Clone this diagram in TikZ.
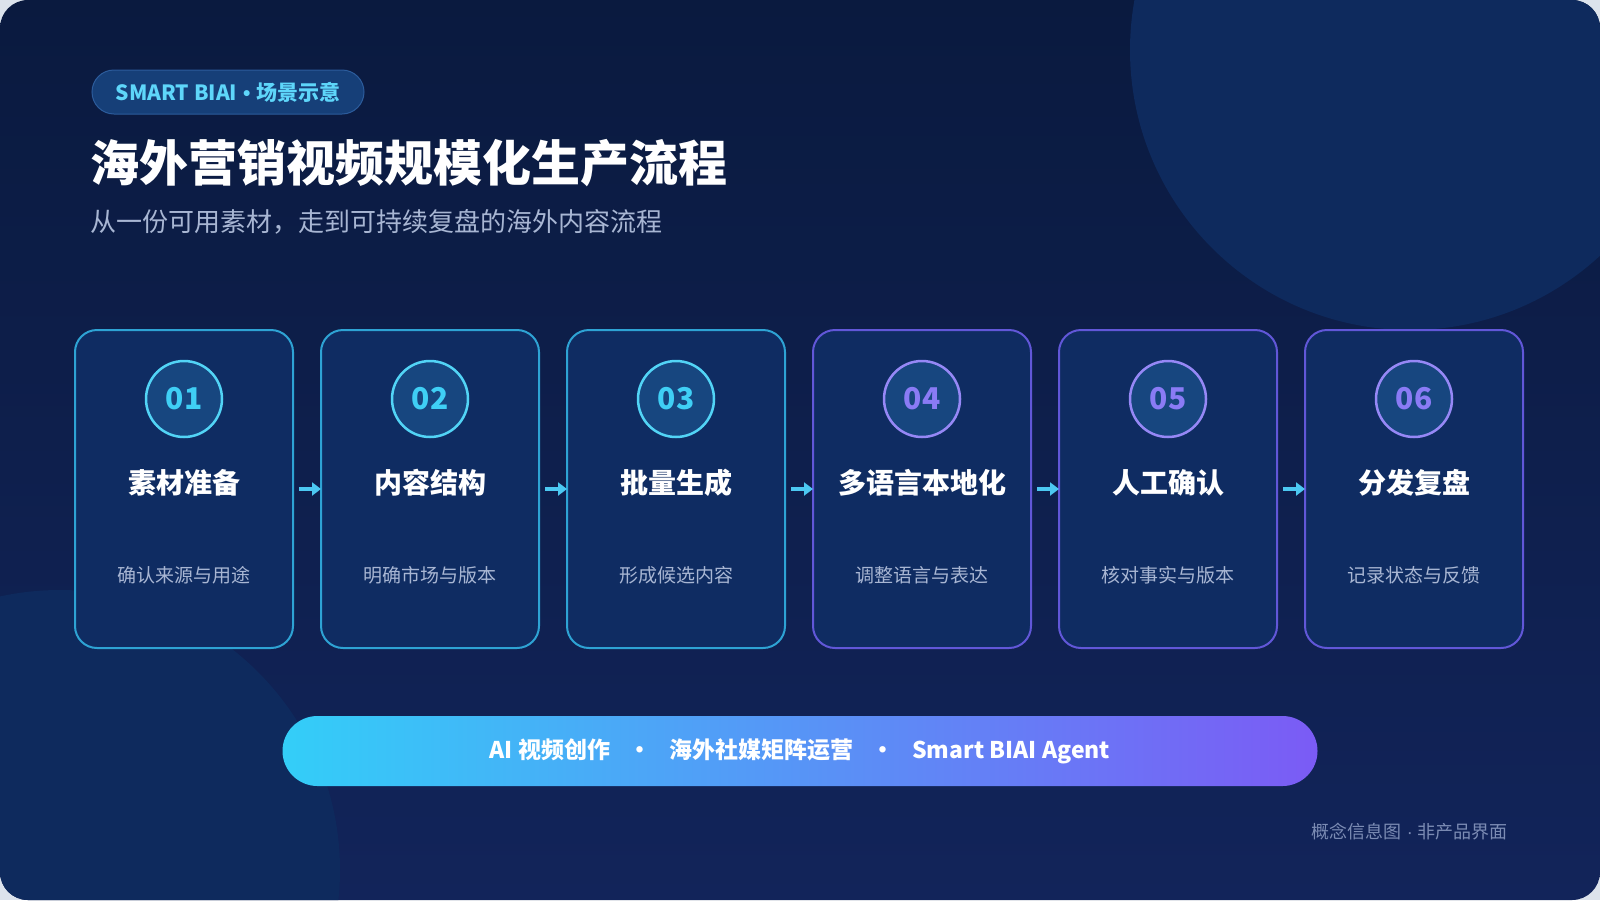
\documentclass[tikz,border=0pt]{standalone}
\usepackage{fontspec}
\setmainfont{Noto Sans CJK SC}
\newfontfamily\symfont{Liberation Sans}
\usepackage{xcolor}
\usepackage{tikz}
\usetikzlibrary{arrows.meta, positioning}
\definecolor{bgouter}{HTML}{DCE3EC}
\definecolor{bgtop}{HTML}{0A1A3F}
\definecolor{bgbottom}{HTML}{12245A}
\definecolor{blob}{HTML}{0E2A5D}
\definecolor{cardfill}{HTML}{0F2C62}
\definecolor{dotfill}{HTML}{17467F}
\definecolor{stepcyan}{HTML}{2EA3D4}
\definecolor{steppurple}{HTML}{6157D8}
\definecolor{numcyan}{HTML}{3FCFF5}
\definecolor{numpurple}{HTML}{8A7BF5}
\definecolor{dimtext}{HTML}{A8B6D3}
\definecolor{pillfill}{HTML}{163F78}
\definecolor{pillborder}{HTML}{2C5C9C}
\definecolor{pilltext}{HTML}{5ED6FA}
\definecolor{barleft}{HTML}{33CEF8}
\definecolor{barright}{HTML}{7B5BF5}
\definecolor{notetext}{HTML}{7C8CB4}
\definecolor{accent}{HTML}{4CC8F2}
\newcommand{\pxfont}[1]{\fontsize{#1}{#1}\selectfont}

\begin{document}
\begin{tikzpicture}[x=1pt, y=-1pt,
    card/.style={rectangle, rounded corners=22pt, fill=cardfill, line width=2pt,
                 minimum width=218pt, minimum height=318pt},
    cyancard/.style={card, draw=stepcyan},
    purplecard/.style={card, draw=steppurple},
    num/.style={circle, fill=dotfill, line width=2.5pt, minimum size=76pt, inner sep=0pt,
                font=\pxfont{30}\bfseries},
    cyannum/.style={num, draw=numcyan!90, text=numcyan},
    purplenum/.style={num, draw=numpurple!90, text=numpurple},
    stitle/.style={inner sep=0pt, text=white, font=\pxfont{28}\bfseries},
    sdesc/.style={inner sep=0pt, text=dimtext, font=\pxfont{19}},
    arrow/.style={-{Triangle[length=9pt, width=13pt]}, line width=4pt, color=accent,
                  shorten <=5pt, shorten >=-1pt}
  ]
    % background
    \useasboundingbox (0,0) rectangle (1600,900);
    \fill[bgouter] (0,0) rectangle (1600,900);
    \begin{scope}
      \path[clip, rounded corners=28pt] (0,0) rectangle (1600,900);
      \shade[top color=bgtop, bottom color=bgbottom] (0,0) rectangle (1600,900);
      \fill[blob] (1410,50) circle[radius=280];
      \fill[blob] (60,870) circle[radius=280];
    \end{scope}

    % header
    \node[rectangle, rounded corners=22pt, fill=pillfill, draw=pillborder, line width=1pt,
          minimum width=272pt, minimum height=44pt, text=pilltext, font=\pxfont{21}\bfseries]
      (badge) at (228,92) {SMART BIAI{\symfont{} • }场景示意};
    \node[anchor=west, inner sep=0pt, text=white, font=\pxfont{49}\bfseries]
      (title) at (90,163) {海外营销视频规模化生产流程};
    \node[anchor=west, inner sep=0pt, text=dimtext, font=\pxfont{26}]
      (subtitle) at (90,222) {从一份可用素材，走到可持续复盘的海外内容流程};

    % steps
    \node[cyancard] (material) at (184,489) {};
    \node[cyannum] (num1) at (184,399) {01};
    \node[stitle] (title1) at (184,483) {素材准备};
    \node[sdesc] (desc1) at (184,575) {确认来源与用途};

    \node[cyancard] (structure) at (430,489) {};
    \node[cyannum] (num2) at (430,399) {02};
    \node[stitle] (title2) at (430,483) {内容结构};
    \node[sdesc] (desc2) at (430,575) {明确市场与版本};

    \node[cyancard] (batch) at (676,489) {};
    \node[cyannum] (num3) at (676,399) {03};
    \node[stitle] (title3) at (676,483) {批量生成};
    \node[sdesc] (desc3) at (676,575) {形成候选内容};

    \node[purplecard] (localize) at (922,489) {};
    \node[purplenum] (num4) at (922,399) {04};
    \node[stitle] (title4) at (922,483) {多语言本地化};
    \node[sdesc] (desc4) at (922,575) {调整语言与表达};

    \node[purplecard] (review) at (1168,489) {};
    \node[purplenum] (num5) at (1168,399) {05};
    \node[stitle] (title5) at (1168,483) {人工确认};
    \node[sdesc] (desc5) at (1168,575) {核对事实与版本};

    \node[purplecard] (publish) at (1414,489) {};
    \node[purplenum] (num6) at (1414,399) {06};
    \node[stitle] (title6) at (1414,483) {分发复盘};
    \node[sdesc] (desc6) at (1414,575) {记录状态与反馈};

    \draw[arrow] (material) -- (structure);
    \draw[arrow] (structure) -- (batch);
    \draw[arrow] (batch) -- (localize);
    \draw[arrow] (localize) -- (review);
    \draw[arrow] (review) -- (publish);

    % footer
    \node[rectangle, rounded corners=35pt, left color=barleft, right color=barright,
          minimum width=1035pt, minimum height=70pt, text=white, font=\pxfont{23}\bfseries]
      (tags) at (800,751) {AI 视频创作\hspace{18pt}•\hspace{18pt}海外社媒矩阵运营\hspace{18pt}•\hspace{18pt}Smart BIAI Agent};
    \node[anchor=east, inner sep=0pt, text=notetext, font=\pxfont{18}]
      (note) at (1508,832) {概念信息图{\symfont{} · }非产品界面};
  \end{tikzpicture}
\end{document}
